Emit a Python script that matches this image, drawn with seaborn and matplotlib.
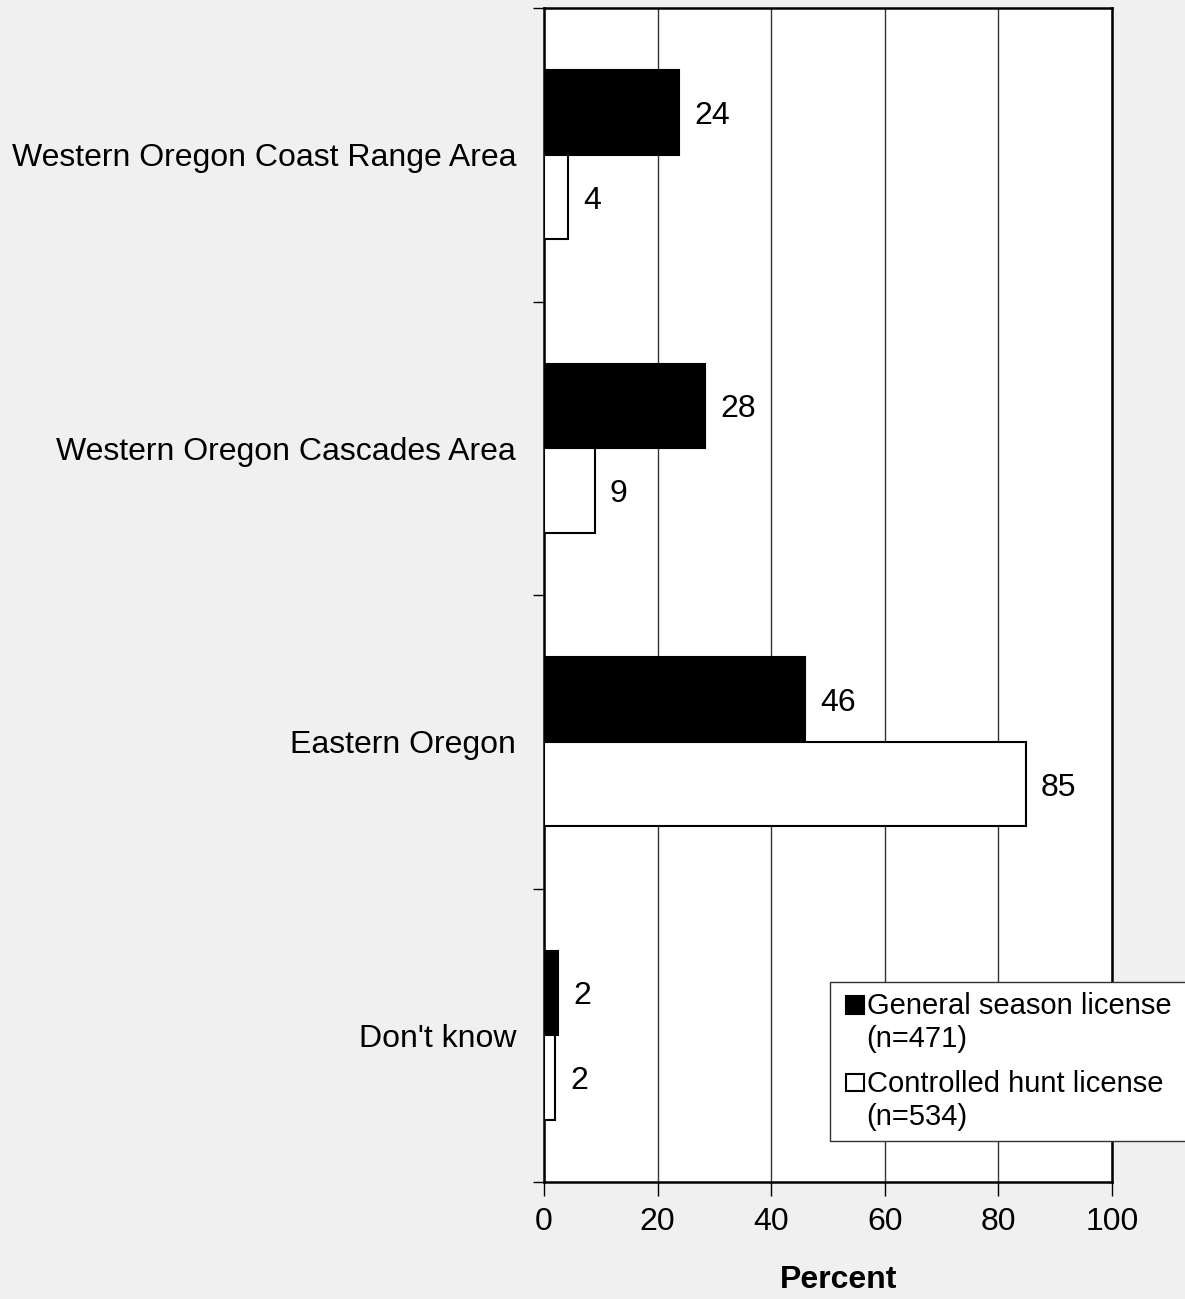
import matplotlib
matplotlib.use("Agg")
import matplotlib.pyplot as plt
import seaborn as sns
import pandas as pd
import numpy as np
from matplotlib.ticker import FixedLocator
from matplotlib.patches import Rectangle
from matplotlib.legend_handler import HandlerPatch

categories = ["Western Oregon Coast Range Area", "Western Oregon Cascades Area",
              "Eastern Oregon", "Don't know"]
general = [23.8, 28.4, 45.9, 2.4]
controlled = [4.3, 8.9, 84.8, 2.0]
series_names = ["General season license \n(n=471)", "Controlled hunt license \n(n=534)"]
x_ticks = [0, 20, 40, 60, 80, 100]

df = pd.DataFrame({
    "Area": categories * 2,
    "Percent": general + controlled,
    "License": [series_names[0]] * 4 + [series_names[1]] * 4,
})

sns.set_theme(style="white")
plt.rcParams["font.family"] = ["Liberation Sans", "DejaVu Sans"]
for k in ["text.color", "axes.labelcolor", "xtick.color", "ytick.color"]:
    plt.rcParams[k] = "black"
FS = 23
LFS = 21

fig = plt.figure(figsize=(11.85, 12.99), dpi=100, facecolor="#f0f0f0")
ax = fig.add_axes([544/1185, 1-1182/1299, (1112-544)/1185, (1182-8)/1299])
ax.set_facecolor("white")

sns.barplot(data=df, y="Area", x="Percent", hue="License", orient="h",
            order=categories, hue_order=series_names,
            palette=["black", "white"], edgecolor="black", linewidth=1.5,
            width=0.576, dodge=True, ax=ax, zorder=3, legend=True)

for cont in ax.containers:
    texts = ax.bar_label(cont, labels=[f"{v:.0f}" for v in cont.datavalues],
                         padding=11, fontsize=FS, color="black")
    for t in texts:
        t.set_va("center_baseline")

ax.set_xlim(0, 100)
ax.set_ylim(3.5, -0.5)
ax.set_xticks(x_ticks)
ax.set_xticklabels([str(t) for t in x_ticks], fontsize=FS)
ax.set_yticks(range(len(categories)))
ax.set_yticklabels(categories, fontsize=FS)
ax.yaxis.set_minor_locator(FixedLocator(np.arange(-0.5, 4.0, 1.0)))
ax.tick_params(axis="y", which="major", length=0, pad=20)
ax.tick_params(axis="y", which="minor", left=True, length=8, width=1, color="black")
ax.tick_params(axis="x", which="major", bottom=True, length=10, width=1, color="black", pad=8)

ax.grid(axis="x", color="#333333", linewidth=1, zorder=0)
ax.set_axisbelow(True)
for s in ax.spines.values():
    s.set_color("black")
    s.set_linewidth(1.8)

ax.set_ylabel("")
ax.set_xlabel("Percent", fontsize=FS, fontweight="bold")
ax.xaxis.set_label_coords(0.518, -0.071)


def top_square(legend, orig_handle, xdescent, ydescent, width, height, fontsize):
    sq = 0.6 * fontsize
    pitch = 1.13 * fontsize
    return Rectangle((-xdescent + width - sq, pitch - 0.44 * fontsize), sq, sq)


handles, labels = ax.get_legend_handles_labels()
leg = ax.legend(handles, labels, loc="upper left",
                bbox_to_anchor=(830/1185, 1-982/1299), bbox_transform=fig.transFigure,
                fontsize=LFS, frameon=True, fancybox=False, framealpha=1,
                edgecolor="#333333", handlelength=0.8, handleheight=0.6,
                handletextpad=0.1, borderpad=0.36, labelspacing=0.59,
                borderaxespad=0,
                handler_map={h: HandlerPatch(patch_func=top_square) for h in handles})
leg.get_frame().set_linewidth(1)
leg.set_zorder(5)

fig.savefig("out.png", dpi=100, facecolor=fig.get_facecolor())
